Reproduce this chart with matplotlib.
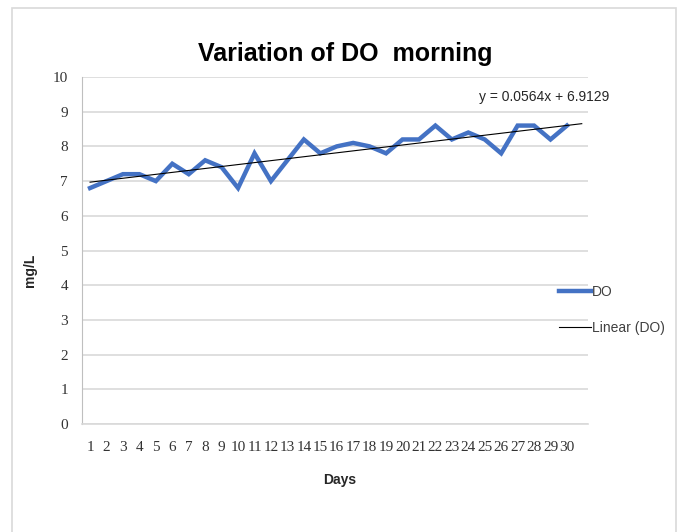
import numpy as np
import matplotlib.pyplot as plt
from matplotlib.patches import Rectangle

# DO readings (mg/L), one per morning
days = list(range(1, 31))
do_values = [6.8, 7.0, 7.2, 7.2, 7.0, 7.5, 7.2, 7.6, 7.4, 6.8,
             7.8, 7.0, 7.6, 8.2, 7.8, 8.0, 8.1, 8.0, 7.8, 8.2,
             8.2, 8.6, 8.2, 8.4, 8.2, 7.8, 8.6, 8.6, 8.2, 8.6]
y_ticks = list(range(0, 11))
title_text = 'Variation of DO  morning'
trend_label = 'y = 0.0564x + 6.9129'

narrow = ['Liberation Sans Narrow', 'Liberation Sans', 'DejaVu Sans']
serif = ['Liberation Serif', 'DejaVu Serif']


def make_figure():
    fig = plt.figure(figsize=(6.81, 5.32), dpi=100)
    # light outer frame like the excel chart area
    fig.patches.append(Rectangle((12 / 681, -0.01), 664 / 681, 1 - 8 / 532 + 0.01,
                                 transform=fig.transFigure, fill=False,
                                 edgecolor='#d9d9d9', linewidth=1.2))
    ax = fig.add_axes([82 / 681, 108 / 532, 506 / 681, 347 / 532])
    return fig, ax


def plot_chart(ax):
    x = np.array(days)
    y = np.array(do_values)
    line_do, = ax.plot(x, y, color='#4472c4', linewidth=3.2, label='DO',
                       solid_joinstyle='miter', zorder=3)
    slope, intercept = np.polyfit(x, y, 1)
    xt = np.array([1, 30.9])
    line_tr, = ax.plot(xt, slope * xt + intercept, color='black', linewidth=0.8,
                       label='Linear (DO)', zorder=4)

    ax.set_xlim(0.51, 31.28)
    ax.set_ylim(0, 10)
    ax.set_xticks(days)
    ax.set_yticks(y_ticks)
    ax.tick_params(length=0, labelsize=11, colors='#333333')
    ax.tick_params(axis='x', pad=12)
    ax.tick_params(axis='y', pad=10)
    for lbl in ax.get_xticklabels() + ax.get_yticklabels():
        lbl.set_family(serif)
    ax.grid(axis='y', color='#d9d9d9', linewidth=1.2)
    ax.set_axisbelow(True)
    for side in ['top', 'right']:
        ax.spines[side].set_visible(False)
    ax.spines['left'].set_color('#bfbfbf')
    ax.spines['bottom'].set_color('#d9d9d9')
    ax.spines['bottom'].set_linewidth(1.2)

    ax.text(28.6, 9.42, trend_label, ha='center', va='center',
            fontsize=10, family=narrow, color='#262626')
    return line_do, line_tr


fig, ax = make_figure()
line_do, line_tr = plot_chart(ax)

fig.text(345 / 681, 1 - 54 / 532, title_text, ha='center', va='center',
         fontsize=18, fontweight='bold', family=narrow, color='black')
fig.text(340 / 681, 1 - 480 / 532, 'Days', ha='center', va='center',
         fontsize=10, fontweight='bold', family=narrow, color='#262626')
fig.text(30 / 681, 1 - 270 / 532, 'mg/L', ha='center', va='center',
         rotation=90, fontsize=10, fontweight='bold', family=narrow, color='#262626')

leg = fig.legend(handles=[line_do, line_tr], loc='upper left',
                 bbox_to_anchor=(553 / 681, 1 - 279 / 532), frameon=False,
                 prop={'family': narrow, 'size': 10}, handlelength=2.3,
                 handletextpad=0.1, labelspacing=1.6, borderaxespad=0)
for t in leg.get_texts():
    t.set_color('#404040')

fig.savefig('out.png', dpi=100, facecolor='white')
